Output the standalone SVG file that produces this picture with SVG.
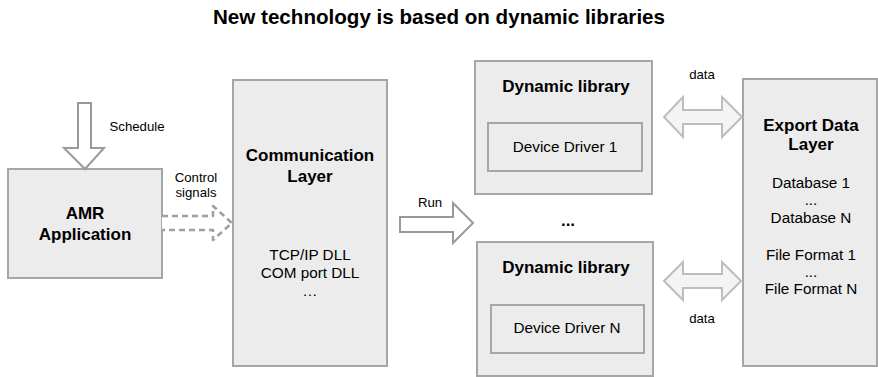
<svg xmlns="http://www.w3.org/2000/svg" width="878" height="377" viewBox="0 0 878 377">
  <style>
    .box { fill: #ececec; stroke: #a6a6a6; stroke-width: 2; }
    .inner { fill: #ececec; stroke: #a6a6a6; stroke-width: 2; }
    .t { font-family: "Liberation Sans", Arial, sans-serif; fill: #000; text-anchor: middle; }
    .b { font-weight: bold; font-size: 17px; }
    .r { font-size: 15.3px; }
    .s { font-size: 13.2px; }
    .arrow { fill: #ffffff; stroke: #9a9a9a; stroke-width: 2; stroke-linejoin: miter; }
    .dash { fill: #ffffff; stroke: #a0a0a0; stroke-width: 2.6; stroke-dasharray: 6 4; stroke-linejoin: round; }
    .data { fill: #f4f4f4; stroke: #bdbdbd; stroke-width: 2; }
  </style>
  <rect width="878" height="377" fill="#ffffff"/>

  <text class="t" x="439" y="24" font-size="20.6" font-weight="bold">New technology is based on dynamic libraries</text>

  <g id="amr">
    <rect class="box" x="8" y="169" width="154" height="109"/>
    <text class="t b" x="85" y="219">AMR</text>
    <text class="t b" x="85" y="240">Application</text>
  </g>

  <g id="communication">
    <rect class="box" x="233" y="80" width="154" height="286"/>
    <text class="t b" x="310" y="161">Communication</text>
    <text class="t b" x="310" y="182">Layer</text>
    <text class="t r" x="310" y="260">TCP/IP DLL</text>
    <text class="t r" x="310" y="278">COM port DLL</text>
    <text class="t r" x="310" y="296">…</text>
  </g>

  <g id="dynlib1">
    <rect class="box" x="475" y="61" width="177" height="133"/>
    <text class="t b" x="566" y="92">Dynamic library</text>
    <rect class="inner" x="488" y="123" width="154" height="48"/>
    <text class="t r" x="565" y="152">Device Driver 1</text>
  </g>

  <g id="dynlibN">
    <rect class="box" x="477" y="242" width="176" height="134"/>
    <text class="t b" x="566" y="273">Dynamic library</text>
    <rect class="inner" x="491" y="305" width="153" height="48"/>
    <text class="t r" x="567" y="333">Device Driver N</text>
  </g>

  <text class="t b" x="568" y="226">...</text>

  <g id="export">
    <rect class="box" x="743" y="79" width="134" height="287"/>
    <text class="t b" x="811" y="131">Export Data</text>
    <text class="t b" x="811" y="150">Layer</text>
    <text class="t r" x="811" y="188">Database 1</text>
    <text class="t r" x="811" y="205">...</text>
    <text class="t r" x="811" y="223">Database N</text>
    <text class="t r" x="811" y="260">File Format 1</text>
    <text class="t r" x="811" y="277">...</text>
    <text class="t r" x="811" y="294">File Format N</text>
  </g>

  <g id="connectors">
    <!-- Schedule: downward block arrow into AMR -->
    <path class="arrow" d="M78,103 H91 V148 H104 L85,169 L64,148 H78 Z"/>
    <text class="t s" x="137" y="131">Schedule</text>

    <!-- Control signals: dashed block arrow -->
    <path class="dash" d="M162,216 H213 V206 L232,223 L213,240 V230 H162"/>
    <text class="t s" x="196" y="182">Control</text>
    <text class="t s" x="196" y="197">signals</text>

    <!-- Run: block arrow to the dynamic libraries -->
    <path class="arrow" d="M400,217 H453 V203 L473,223 L453,243 V232 H400 Z"/>
    <text class="t s" x="430" y="207">Run</text>

    <!-- data exchange arrows -->
    <path class="data" d="M664,117 L683,97 V110 H722 V97 L742,117 L722,137 V124 H683 V137 Z"/>
    <text class="t s" x="702" y="79">data</text>
    <path class="data" d="M664,281 L683,262 V274 H722 V262 L741,281 L722,300 V288 H683 V300 Z"/>
    <text class="t s" x="702" y="323">data</text>
  </g>
</svg>
